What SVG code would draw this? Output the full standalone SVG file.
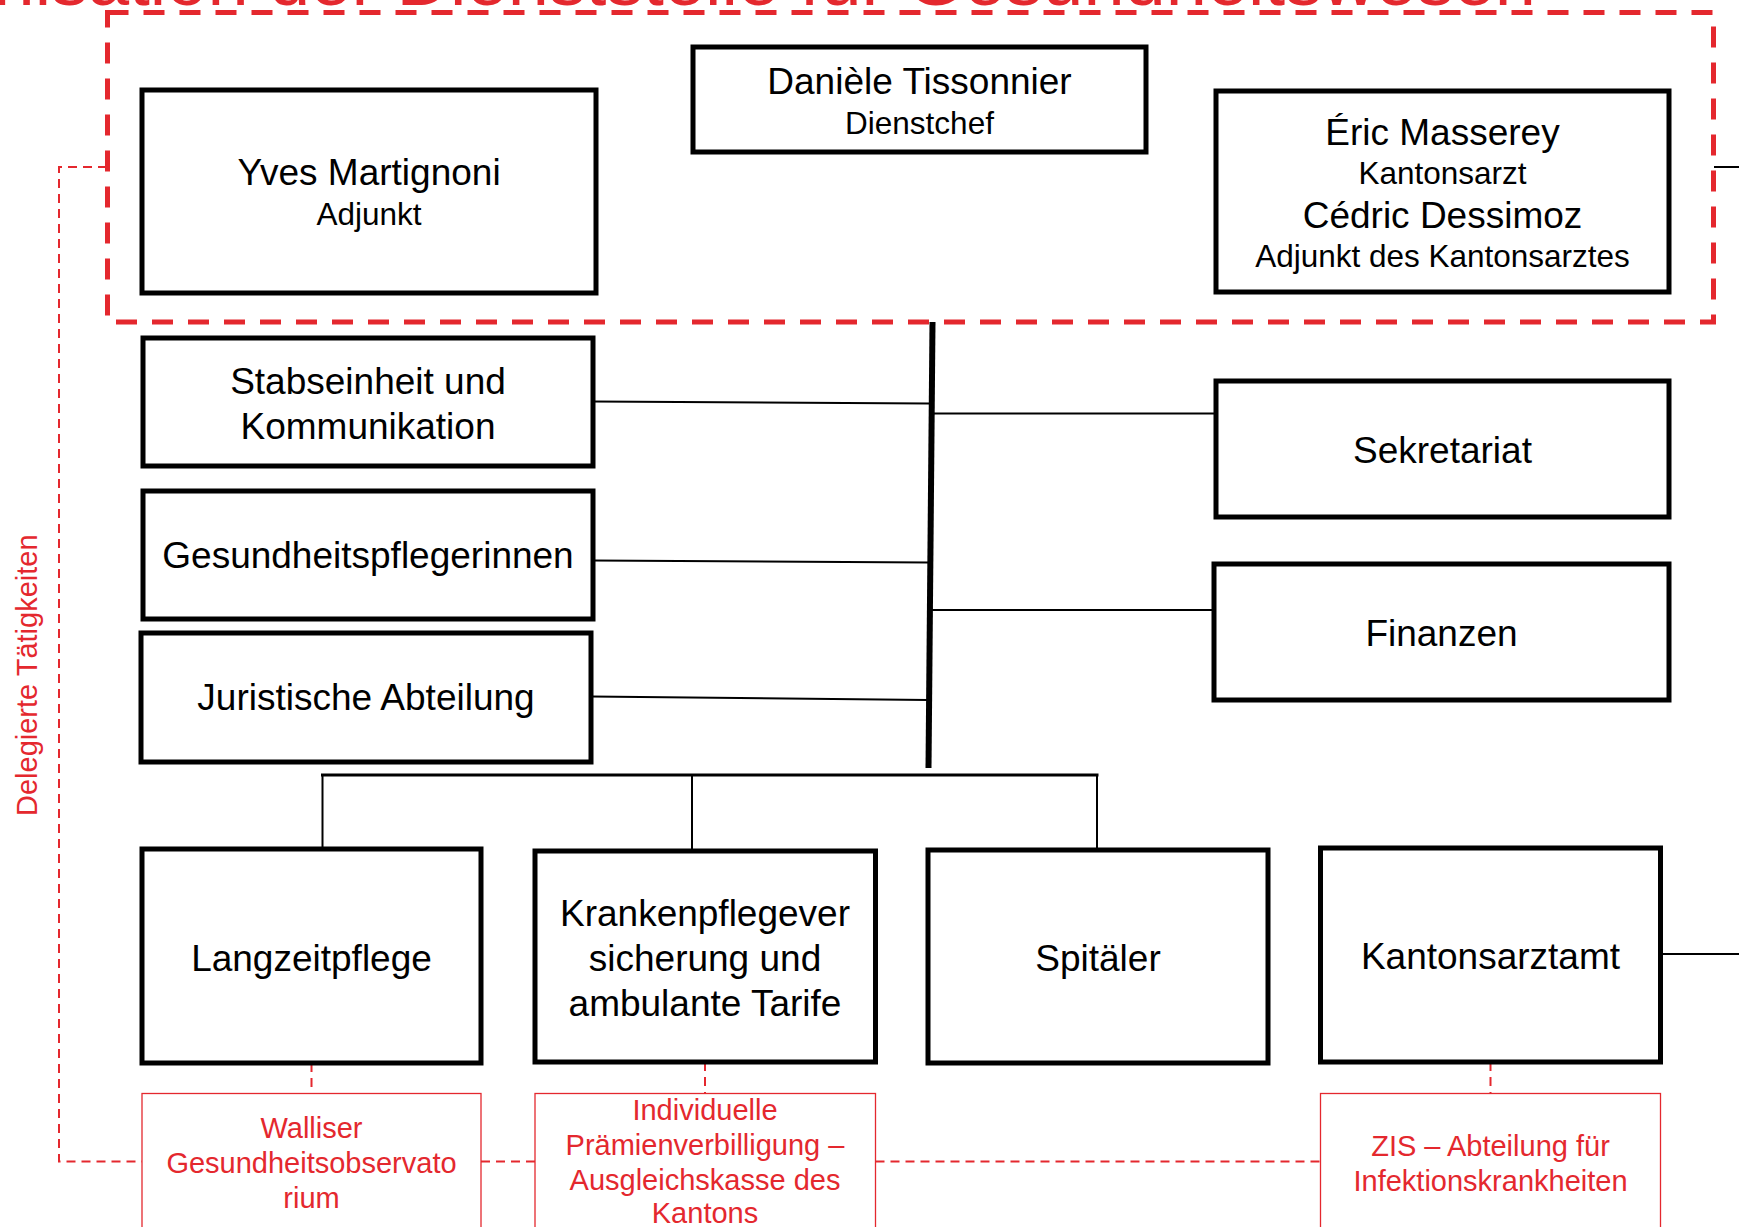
<svg xmlns="http://www.w3.org/2000/svg" width="1739" height="1227" viewBox="0 0 1739 1227">
<style>
  .box { fill: #ffffff; stroke: #000000; stroke-width: 5; }
  .rbox { fill: #ffffff; stroke: #E4282E; stroke-width: 1.3; }
  .t { font-family: "Liberation Sans", Arial, sans-serif; fill: #000000; text-anchor: middle; }
  .big { font-size: 37px; }
  .sub { font-size: 31.5px; }
  .red { fill: #E4282E; font-size: 29px; }
  .con { stroke: #000000; stroke-width: 2; fill: none; }
  .spine { stroke: #000000; stroke-width: 6; fill: none; }
  .bus { stroke: #000000; stroke-width: 3; fill: none; }
  .rdash { stroke: #E4282E; stroke-width: 2; stroke-dasharray: 9 6; fill: none; }
  .frame { stroke: #E4282E; stroke-width: 5; stroke-dasharray: 21 15; fill: none; }
</style>
<rect x="0" y="0" width="1739" height="1227" fill="#ffffff"/>

<text id="title" class="t" x="1536" y="5" style="font-size:74px;fill:#E4282E;text-anchor:end">Organisation der Dienststelle für Gesundheitswesen</text>

<rect id="leitung-frame" class="frame" x="107.5" y="12.5" width="1606" height="309.5"/>

<g id="connectors">
  <line class="spine" x1="932.5" y1="322" x2="928.5" y2="768"/>
  <line class="con" x1="593" y1="401.5" x2="929" y2="403.5"/>
  <line class="con" x1="593" y1="560.5" x2="929" y2="562.5"/>
  <line class="con" x1="591" y1="696.5" x2="928" y2="700"/>
  <line class="con" x1="932" y1="413.5" x2="1216" y2="413.5"/>
  <line class="con" x1="931" y1="610" x2="1214" y2="610"/>
  <line class="bus" x1="321" y1="775" x2="1098.5" y2="775"/>
  <line class="con" x1="322.5" y1="775" x2="322.5" y2="849"/>
  <line class="con" x1="692" y1="775" x2="692" y2="851"/>
  <line class="con" x1="1097" y1="775" x2="1097" y2="850"/>
  <line class="con" x1="1714" y1="167" x2="1739" y2="167"/>
  <line class="con" x1="1661" y1="954" x2="1739" y2="954"/>
  <path class="rdash" d="M107,167 H59 V1161.5 H142"/>
  <path class="rdash" d="M481,1161.5 H535"/>
  <path class="rdash" d="M875.5,1161.5 H1320.5"/>
  <line class="rdash" x1="311.5" y1="1063" x2="311.5" y2="1093"/>
  <line class="rdash" x1="705" y1="1062" x2="705" y2="1093"/>
  <line class="rdash" x1="1490.5" y1="1062" x2="1490.5" y2="1093"/>
</g>

<g id="yves">
  <rect class="box" x="142" y="90" width="454" height="203"/>
  <text class="t big" x="369" y="185">Yves Martignoni</text>
  <text class="t sub" x="369" y="225">Adjunkt</text>
</g>
<g id="daniele">
  <rect class="box" x="693" y="47" width="453" height="105"/>
  <text class="t big" x="919.5" y="94">Danièle Tissonnier</text>
  <text class="t sub" x="919.5" y="134">Dienstchef</text>
</g>
<g id="eric">
  <rect class="box" x="1216" y="91" width="453" height="201"/>
  <text class="t big" x="1442.5" y="145">Éric Masserey</text>
  <text class="t sub" x="1442.5" y="184">Kantonsarzt</text>
  <text class="t big" x="1442.5" y="228">Cédric Dessimoz</text>
  <text class="t sub" x="1442.5" y="267">Adjunkt des Kantonsarztes</text>
</g>
<g id="stabseinheit">
  <rect class="box" x="143" y="338" width="450" height="128"/>
  <text class="t big" x="368" y="394">Stabseinheit und</text>
  <text class="t big" x="368" y="439">Kommunikation</text>
</g>
<g id="gesundheitspflegerinnen">
  <rect class="box" x="143" y="491" width="450" height="128"/>
  <text class="t big" x="368" y="568">Gesundheitspflegerinnen</text>
</g>
<g id="juristische">
  <rect class="box" x="141" y="633" width="450" height="129"/>
  <text class="t big" x="366" y="710">Juristische Abteilung</text>
</g>
<g id="sekretariat">
  <rect class="box" x="1216" y="381" width="453" height="136"/>
  <text class="t big" x="1442.5" y="463">Sekretariat</text>
</g>
<g id="finanzen">
  <rect class="box" x="1214" y="564" width="455" height="136"/>
  <text class="t big" x="1441.5" y="646">Finanzen</text>
</g>
<g id="langzeitpflege">
  <rect class="box" x="142" y="849" width="339" height="214"/>
  <text class="t big" x="311.5" y="971">Langzeitpflege</text>
</g>
<g id="krankenpflege">
  <rect class="box" x="535" y="851" width="340.5" height="211"/>
  <text class="t big" x="705" y="926">Krankenpflegever</text>
  <text class="t big" x="705" y="971">sicherung und</text>
  <text class="t big" x="705" y="1016">ambulante Tarife</text>
</g>
<g id="spitaeler">
  <rect class="box" x="928" y="850" width="340" height="213"/>
  <text class="t big" x="1098" y="971">Spitäler</text>
</g>
<g id="kantonsarztamt">
  <rect class="box" x="1320.5" y="848" width="340" height="214"/>
  <text class="t big" x="1490.5" y="969">Kantonsarztamt</text>
</g>
<g id="walliser">
  <rect class="rbox" x="142" y="1093.5" width="339" height="160"/>
  <text class="t red" x="311.5" y="1138">Walliser</text>
  <text class="t red" x="311.5" y="1173">Gesundheitsobservato</text>
  <text class="t red" x="311.5" y="1208">rium</text>
</g>
<g id="praemien">
  <rect class="rbox" x="535" y="1093.5" width="340.5" height="160"/>
  <text class="t red" x="705" y="1120">Individuelle</text>
  <text class="t red" x="705" y="1155">Prämienverbilligung –</text>
  <text class="t red" x="705" y="1190">Ausgleichskasse des</text>
  <text class="t red" x="705" y="1223">Kantons</text>
</g>
<g id="zis">
  <rect class="rbox" x="1320.5" y="1093.5" width="340" height="160"/>
  <text class="t red" x="1490.5" y="1156">ZIS – Abteilung für</text>
  <text class="t red" x="1490.5" y="1191">Infektionskrankheiten</text>
</g>
<g id="delegiert">
  <text class="t red" style="text-anchor:start" transform="translate(36.5,816) rotate(-90)">Delegierte Tätigkeiten</text>
</g>
</svg>
